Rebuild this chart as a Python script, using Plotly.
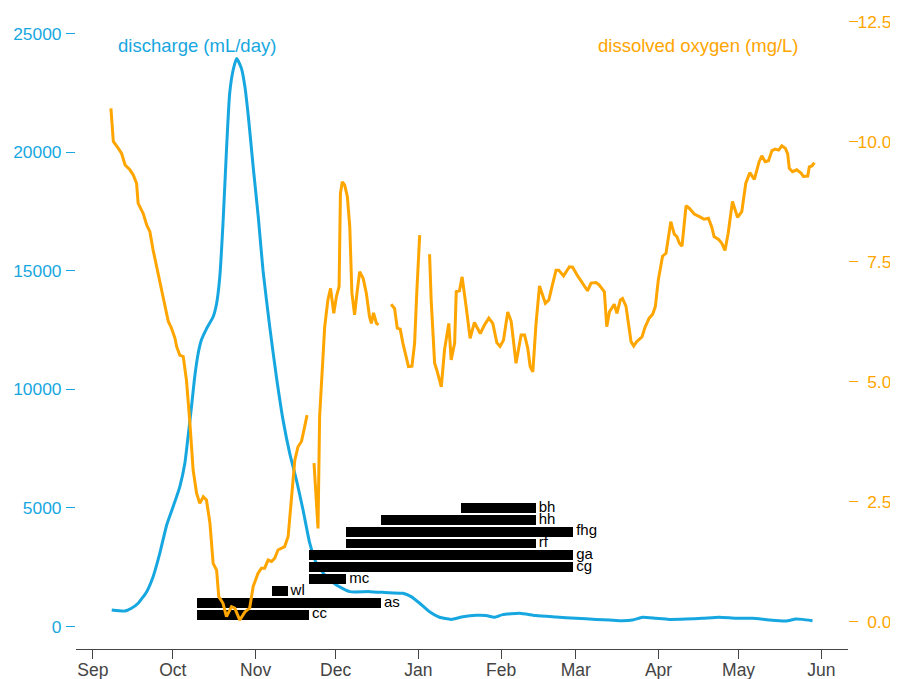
import pandas as pd
import plotly.graph_objects as go

START = pd.Timestamp("2018-09-01")

# discharge (mL/day): day offset from 1 Sep 2018, value
q_days = [7.1, 12, 14.5, 17, 20.2, 22.6, 25.1, 27.7, 30.1, 32.6, 34.5, 35.7, 37, 38.2, 39.5, 40.7,
          42.6, 45.1, 46.4, 47.6, 48.8, 50.1, 51.3, 52.6, 53.9, 55.7, 57, 58.3, 60.1, 62, 63.8,
          66.3, 68.8, 71.3, 73.8, 76.3, 78.8, 81.3, 83.8, 87.5, 91.3, 96.3, 103.7, 111.2, 116.2,
          119.3, 122.5, 126.2, 129.9, 134.3, 138.7, 143.7, 147.4, 150.5, 153.6, 159.9, 166.1,
          173.6, 181.1, 188.6, 193.6, 198.5, 202.3, 206, 211, 216, 222.3, 228.5, 234.7, 241,
          247.2, 253.4, 259.7, 263.4, 265.9, 269.7]
q_vals = [696, 650, 770, 980, 1470, 2100, 3085, 4280, 5050, 5890, 6880, 8000, 9270, 10530, 11520, 12080,
          12550, 13060, 13620, 14750, 17000, 20090, 22480, 23460, 23950, 23530, 22760, 21490, 19380, 17280, 15000,
          12640, 10530, 8700, 7300, 6180, 4910, 3510, 2660, 2100, 1750, 1470, 1470, 1420, 1400,
          1260, 980, 620, 390, 300, 410, 470, 460, 390, 500, 560, 460,
          400, 345, 300, 275, 245, 275, 390, 345, 300, 315, 345, 390, 345,
          345, 275, 230, 315, 300, 245]

# dissolved oxygen (mg/L): day offset from 1 Sep 2018, value (None = missing)
do_days = [6.8, 7.7, 9.5, 10.8, 12.1, 13.9, 15.2, 16.4, 17.0, 18.9, 20.2, 21.4, 22.6, 24.5, 26.4, 28.3,
           29.5, 30.8, 31.4, 32.6, 33.9, 35.1, 36.4, 37.6, 38.9, 40.1, 41.4, 42.6, 43.9, 45.1, 46.4,
           47.2, 48.8, 50.1, 52.0, 53.2, 55.1, 57.0, 58.8, 60.1, 61.9, 63.2, 64.4, 65.7, 67.0, 68.2,
           69.4, 70.7, 71.9, 73.2, 74.4, 75.7, 76.9, 78.2, 79.4, 80.3, 81.6, 82.9, 84.4, 85.0, 85.6,
           86.9, 88.1, 89.1, 90.3, 91.3, 92.3, 92.8, 93.5, 94.4, 95.4, 96.3, 97.1, 98.1, 99.0, 100.0,
           101.3, 102.5, 103.7, 104.4, 105.2, 106.3, 107.1, 109.5, 111.8, 113.1, 114.1, 115.2, 116.2,
           118.3, 119.6, 120.6, 121.4, 122.5, 124.3, 126.2, 126.8, 128.1, 128.9, 130.6, 131.8, 133.4,
           134.3, 135.6, 136.2, 137.4, 138.4, 139.9, 141.4, 143.0, 145.2, 146.8, 148.4, 149.9, 151.4,
           152.6, 153.9, 155.5, 156.8, 158.6, 160.5, 161.8, 163.0, 163.9, 164.9, 166.1, 167.4, 169.6,
           170.9, 172.1, 173.6, 174.6, 176.4, 178.6, 179.8, 181.7, 183.0, 184.2, 185.4, 186.7, 188.6,
           189.8, 191.7, 192.6, 193.6, 195.4, 196.4, 197.7, 198.5, 199.8, 200.8, 201.7, 202.7, 203.8,
           205.8, 207.0, 208.5, 209.8, 210.8, 211.9, 213.5, 214.8, 216.6, 217.9, 218.9, 219.8, 220.8,
           222.3, 223.5, 225.4, 227.5, 229.1, 230.7, 232.0, 232.8, 234.5, 235.7, 236.9, 238.1, 239.7,
           241.6, 243.2, 244.7, 246.2, 247.9, 249.7, 250.7, 252.0, 253.2, 254.5, 255.7, 257.0, 258.2,
           259.5, 260.4, 261.0, 262.2, 263.8, 265.4, 266.3, 267.9, 268.5, 269.5, 270.4]
do_vals = [10.69, 10.0, 9.86, 9.75, 9.51, 9.41, 9.30, 9.13, 8.71, 8.50, 8.26, 8.12, 7.74, 7.25, 6.70, 6.25,
           6.11, 5.90, 5.73, 5.55, 5.52, 5.03, 4.13, 3.16, 2.67, 2.46, 2.60, 2.53, 2.05, 1.21, 1.07,
           0.52, 0.38, 0.10, 0.31, 0.28, 0.03, 0.20, 0.28, 0.73, 1.00, 1.11, 1.11, 1.28, 1.25, 1.32,
           1.49, 1.53, 1.56, 1.77, 2.53, 3.36, 3.64, 3.75, 4.06, 4.30, None, 3.30, 1.94, 4.27, 4.89,
           6.14, 6.70, 6.94, 6.42, 6.77, 6.98, 8.92, 9.16, 9.09, 8.85, 8.22, 6.84, 6.39, 6.84, 7.29,
           7.15, 6.84, 6.35, 6.21, 6.43, 6.21, 6.18, None, 6.61, 6.52, 6.11, 6.09, 5.80,
           5.31, 5.32, 5.80, 6.84, 8.05, None, 7.65, 6.70, 5.38, 5.24, 4.89, 5.66, 6.21,
           5.45, 5.80, 6.87, 6.89, 7.18, 6.56, 5.90, 6.23, 6.00, 6.18, 6.32, 6.21, 5.81,
           5.73, 5.86, 6.45, 6.25, 5.38, 5.97, 5.97, 5.69, 5.31, 5.20, 6.21, 6.99, 6.63,
           6.70, 6.98, 7.32, 7.32, 7.20, 7.39, 7.38, 7.20, 7.09, 7.01, 6.89, 7.05, 7.06,
           7.01, 6.87, 6.14, 6.45, 6.61, 6.42, 6.70, 6.73, 6.57, 6.14, 5.83, 5.74, 5.83,
           5.93, 6.14, 6.32, 6.40, 6.56, 7.11, 7.61, 7.67, 8.33, 8.07, 8.02, 7.88, 7.82,
           8.66, 8.61, 8.49, 8.43, 8.38, 8.40, 8.21, 8.02, 7.96, 7.88, 7.73, 8.09, 8.75,
           8.42, 8.54, 9.13, 9.35, 9.21, 9.58, 9.70, 9.58, 9.60, 9.81, 9.84, 9.82, 9.91,
           9.86, 9.74, 9.44, 9.37, 9.41, 9.34, 9.27, 9.28, 9.47, 9.49, 9.56]

# presence periods
bar_labels = ["cc", "as", "wl", "mc", "cg", "ga", "rf", "fhg", "hh", "bh"]
bar_level = [500, 1000, 1500, 2000, 2500, 3000, 3500, 4000, 4500, 5000]
bar_start = ["2018-10-10", "2018-10-10", "2018-11-07", "2018-11-21", "2018-11-21", "2018-11-21",
             "2018-12-05", "2018-12-05", "2018-12-18", "2019-01-17"]
bar_end = ["2018-11-21", "2018-12-18", "2018-11-13", "2018-12-05", "2019-02-28", "2019-02-28",
           "2019-02-14", "2019-02-28", "2019-02-14", "2019-02-14"]

month_ticks = ["2018-09-01", "2018-10-01", "2018-11-01", "2018-12-01", "2019-01-01", "2019-02-01",
               "2019-03-01", "2019-04-01", "2019-05-01", "2019-06-01"]
month_labels = ["Sep", "Oct", "Nov", "Dec", "Jan", "Feb", "Mar", "Apr", "May", "Jun"]

q_ticks = [0, 5000, 10000, 15000, 20000, 25000]
q_tick_labels = ["0", "5000", "10000", "15000", "20000", "25000"]
do_ticks = [0, 2.5, 5, 7.5, 10, 12.5]
NB = "\u00a0\u00a0"
do_tick_labels = [NB + "0.0", NB + "2.5", NB + "5.0", NB + "7.5", "10.0", "12.5"]

BLUE = "#17a7e0"
ORANGE = "#ffa500"
FONT = "Liberation Sans, Arial, sans-serif"

q_x = START + pd.to_timedelta(q_days, unit="D")
do_x = START + pd.to_timedelta(do_days, unit="D")
bs = pd.to_datetime(bar_start)
be = pd.to_datetime(bar_end)
dur_ms = [(e - s).total_seconds() * 1000 for s, e in zip(bs, be)]

fig = go.Figure()
fig.add_trace(go.Scatter(x=q_x, y=q_vals, mode="lines", yaxis="y",
                         line=dict(color=BLUE, width=3, shape="spline", smoothing=0.5),
                         showlegend=False, hoverinfo="skip"))
fig.add_trace(go.Bar(y=bar_level, x=dur_ms, base=bs, orientation="h", yaxis="y2",
                     width=420, marker=dict(color="black", line=dict(width=0)),
                     showlegend=False, hoverinfo="skip"))
fig.add_trace(go.Scatter(x=be, y=bar_level, mode="text", text=["\u2009" + t for t in bar_labels],
                         yaxis="y2", textposition="middle right",
                         textfont=dict(family=FONT, size=15, color="black"),
                         showlegend=False, hoverinfo="skip"))
fig.add_trace(go.Scatter(x=do_x, y=do_vals, mode="lines", yaxis="y3",
                         line=dict(color=ORANGE, width=3), connectgaps=False,
                         showlegend=False, hoverinfo="skip"))

left_range = [-948.6, 25569]
fig.update_layout(
    width=898, height=679,
    margin=dict(l=68, r=58, t=12, b=38),
    plot_bgcolor="white", paper_bgcolor="white",
    font=dict(family=FONT),
    bargap=0,
    xaxis=dict(type="date", automargin=False,
               range=[START + pd.Timedelta(days=-6.29), START + pd.Timedelta(days=283.0)],
               tickvals=month_ticks, ticktext=month_labels,
               showline=True, linecolor="#444444", linewidth=1,
               ticks="outside", ticklen=9, tickcolor="#444444", tickwidth=1,
               tickfont=dict(size=17.5, color="#444444"), ticklabelstandoff=-4,
               showgrid=False, zeroline=False),
    yaxis=dict(range=left_range, automargin=False, tickvals=q_ticks, ticktext=q_tick_labels,
               ticks="outside", ticklen=9, tickcolor=BLUE, tickwidth=1,
               tickfont=dict(size=17.4, color=BLUE), ticklabelstandoff=1,
               showline=False, showgrid=False, zeroline=False),
    yaxis2=dict(range=left_range, overlaying="y", visible=False, showgrid=False, zeroline=False),
    yaxis3=dict(range=[-0.573, 12.531], automargin=False, overlaying="y", side="right",
                tickvals=do_ticks, ticktext=do_tick_labels,
                ticks="outside", ticklen=9, tickcolor=ORANGE, tickwidth=1,
                tickfont=dict(size=17.4, color=ORANGE), ticklabelstandoff=-4,
                showline=False, showgrid=False, zeroline=False),
    annotations=[
        dict(text="discharge (mL/day)", xref="paper", yref="paper", x=0.1563, y=0.9587,
             xanchor="center", yanchor="middle", showarrow=False,
             font=dict(family=FONT, size=18.5, color=BLUE)),
        dict(text="dissolved oxygen (mg/L)", xref="paper", yref="paper", x=0.806, y=0.9587,
             xanchor="center", yanchor="middle", showarrow=False,
             font=dict(family=FONT, size=18.5, color=ORANGE)),
    ],
)

fig.write_html("out.html")
